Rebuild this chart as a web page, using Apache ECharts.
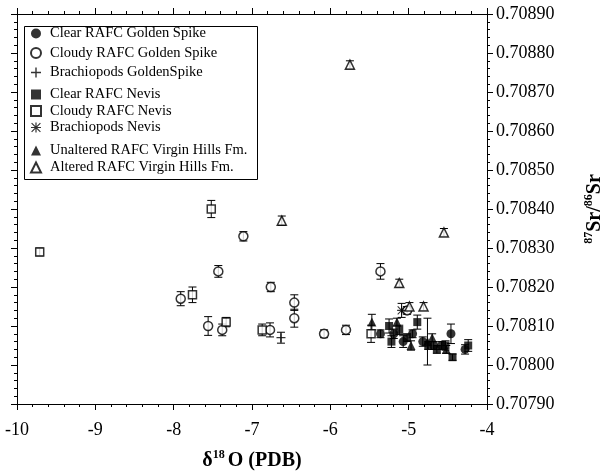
<!DOCTYPE html>
<html><head><meta charset="utf-8">
<script src="https://cdn.jsdelivr.net/npm/echarts@6/dist/echarts.min.js"></script>
<style>html,body{margin:0;padding:0;background:#fff}#c{width:613px;height:476px}</style>
</head><body><div id="c"></div>
<script>
// tick labels
const xTickLabels = ['-10','-9','-8','-7','-6','-5','-4'];
const yTickLabels = ['0.70790','0.70800','0.70810','0.70820','0.70830','0.70840','0.70850','0.70860','0.70870','0.70880','0.70890'];
// series: [d18O, 87Sr/86Sr, error]
const clearGS = [
  [-5.36,0.70808,0.000010],[-5.19,0.70808,0.000012],[-5.07,0.70806,0.000015],[-4.95,0.70808,0.000010],
  [-4.82,0.70806,0.000012],[-4.68,0.70805,0.000010],[-4.58,0.70805,0.000010],[-4.46,0.70808,0.000025],
  [-4.28,0.70804,0.000012]
];
const cloudyGS = [
  [-7.91,0.70817,0.000018],[-7.43,0.70824,0.000015],[-7.11,0.70833,0.000012],[-6.76,0.70820,0.000012],
  [-7.56,0.70810,0.000024],[-7.38,0.70809,0.000015],[-6.77,0.70809,0.000018],[-6.46,0.70816,0.000020],
  [-6.46,0.70812,0.000023],[-6.08,0.70808,0.000010],[-5.80,0.70809,0.000012],[-5.36,0.70824,0.000020],
  [-5.02,0.70814,0.000010]
];
const brachGS = [[-6.63,0.70807,0.000014]];
const clearNevis = [
  [-5.25,0.70810,0.000018],[-5.22,0.70806,0.000015],[-5.12,0.70809,0.000012],[-5.02,0.70807,0.000010],
  [-4.89,0.70811,0.000018],[-4.75,0.70805,0.000010],[-4.64,0.70804,0.000010],[-4.53,0.70805,0.000012],
  [-4.44,0.70802,0.000008],[-4.24,0.70805,0.000015]
];
const cloudyNevis = [
  [-9.71,0.70829,0.000010],[-7.52,0.70840,0.000022],[-7.76,0.70818,0.000020],[-7.33,0.70811,0.000012],
  [-6.87,0.70809,0.000015],[-5.48,0.70808,0.000022]
];
const brachNevis = [[-5.09,0.70814,0.000018]];
const unalteredVH = [
  [-5.47,0.70811,0.000020],[-5.15,0.70811,0.000010],[-4.97,0.70805,0.000012],[-4.76,0.70806,0.000060],
  [-4.70,0.70807,0.000010],[-4.52,0.70804,0.000010]
];
const alteredVH = [
  [-5.75,0.70877,0.000010],[-6.62,0.70837,0.000012],[-4.55,0.70834,0.000010],[-5.12,0.70821,0.000010],
  [-4.99,0.70815,0.000010],[-4.81,0.70815,0.000010]
];

const names = ['Clear RAFC Golden Spike','Cloudy RAFC Golden Spike','Brachiopods GoldenSpike',
  'Clear RAFC Nevis','Cloudy RAFC Nevis','Brachiopods Nevis',
  'Unaltered RAFC Virgin Hills Fm.','Altered RAFC Virgin Hills Fm.'];

const PLUS = 'path://M4.3,0h1.4v4.3h4.3v1.4h-4.3v4.3h-1.4v-4.3h-4.3v-1.4h4.3z';
const STAR = 'path://M4.4,0h1.2v10h-1.2z M0,5.6v-1.2h10v1.2z M1,0.2L9.8,9L9,9.8L0.2,1z M9,0.2L9.8,1L1,9.8L0.2,9z';

const filled = {color:'#000'};
const open = {color:'#fff', borderColor:'#000', borderWidth:1.5};
const serif = 'Liberation Serif';

const sets = [
  {name:names[0], data:clearGS, symbol:'circle', size:9, style:filled},
  {name:names[1], data:cloudyGS, symbol:'circle', size:9, style:open},
  {name:names[2], data:brachGS, symbol:PLUS, size:9, style:filled},
  {name:names[3], data:clearNevis, symbol:'rect', size:8, style:filled},
  {name:names[4], data:cloudyNevis, symbol:'rect', size:8, style:open},
  {name:names[5], data:brachNevis, symbol:STAR, size:9, style:filled},
  {name:names[6], data:unalteredVH, symbol:'triangle', size:9, style:filled},
  {name:names[7], data:alteredVH, symbol:'triangle', size:9, style:open}
];

const allErr = [].concat(clearGS, cloudyGS, brachGS, clearNevis, cloudyNevis, brachNevis, unalteredVH, alteredVH);

const series = [{
  type:'custom', z:1, silent:true, data:allErr, encode:{x:0,y:1},
  renderItem:function(params, api){
    const x = api.value(0), y = api.value(1), e = api.value(2);
    const t = api.coord([x, y+e]), b = api.coord([x, y-e]);
    const c = 4, st = {stroke:'#000', lineWidth:1};
    return {type:'group', children:[
      {type:'line', shape:{x1:t[0],y1:t[1],x2:b[0],y2:b[1]}, style:st},
      {type:'line', shape:{x1:t[0]-c,y1:t[1],x2:t[0]+c,y2:t[1]}, style:st},
      {type:'line', shape:{x1:b[0]-c,y1:b[1],x2:b[0]+c,y2:b[1]}, style:st}
    ]};
  }
}].concat(sets.map(s => ({
  type:'scatter', name:s.name, z:2, data:s.data.map(d => [d[0], d[1]]),
  symbol:s.symbol, symbolSize:s.size, itemStyle:s.style, silent:true
})));

const axisCommon = {
  axisLine:{show:true, onZero:false, lineStyle:{color:'#000', width:1}},
  axisTick:{show:true, length:6, lineStyle:{color:'#000'}},
  minorTick:{show:true, splitNumber:5, length:3, lineStyle:{color:'#000'}},
  splitLine:{show:false}
};
const legendText = {fontFamily:serif, fontSize:14.5, color:'#000', padding:[0,0,0,4]};
function mkLegend(items, top, gap){
  return {orient:'vertical', left:30, top:top, itemGap:gap, itemWidth:10, itemHeight:10,
    data:items, textStyle:legendText, selectedMode:false, padding:0};
}

const chart = echarts.init(document.getElementById('c'), null, {renderer:'canvas'});
chart.setOption({
  animation:false,
  backgroundColor:'#fff',
  grid:{left:17, right:115, top:14, bottom:69},
  legend:[
    mkLegend(names.slice(0,3), 26, 4.5),
    mkLegend(names.slice(3,6), 87, 1.5),
    mkLegend(names.slice(6,8), 143, 2)
  ],
  graphic:[{type:'rect', left:22, top:24, shape:{width:233, height:153}, style:{fill:'none', stroke:'#000', lineWidth:1}, z:10}],
  xAxis:[
    Object.assign({type:'value', min:-10, max:-4, interval:1, position:'bottom',
      axisLabel:{fontFamily:serif, fontSize:18, color:'#000', margin:17,
        formatter:(v, i) => xTickLabels[i]},
      name:'{d|δ}{s|18}{d|O (PDB)}', nameLocation:'middle', nameGap:45,
      nameTextStyle:{rich:{
        d:{fontFamily:serif, fontSize:20, fontWeight:'bold', color:'#000', lineHeight:24},
        s:{fontFamily:serif, fontSize:12, fontWeight:'bold', color:'#000', lineHeight:12, verticalAlign:'top', padding:[0,3,0,0]}
      }}
    }, axisCommon),
    Object.assign({type:'value', min:-10, max:-4, interval:1, position:'top', axisLabel:{show:false}}, axisCommon)
  ],
  yAxis:[
    Object.assign({type:'value', min:0.7079, max:0.7089, interval:0.0001, position:'right',
      axisLabel:{fontFamily:serif, fontSize:18, color:'#000', margin:9,
        formatter:(v, i) => yTickLabels[i]},
      name:'{s|87}{d|Sr/}{s|86}{d|Sr}', nameLocation:'middle', nameGap:96, nameRotate:90,
      nameTextStyle:{rich:{
        d:{fontFamily:serif, fontSize:20, fontWeight:'bold', color:'#000', lineHeight:24},
        s:{fontFamily:serif, fontSize:12, fontWeight:'bold', color:'#000', lineHeight:12, verticalAlign:'top'}
      }}
    }, axisCommon),
    Object.assign({type:'value', min:0.7079, max:0.7089, interval:0.0001, position:'left', axisLabel:{show:false}}, axisCommon)
  ],
  series:series
});
</script></body></html>
